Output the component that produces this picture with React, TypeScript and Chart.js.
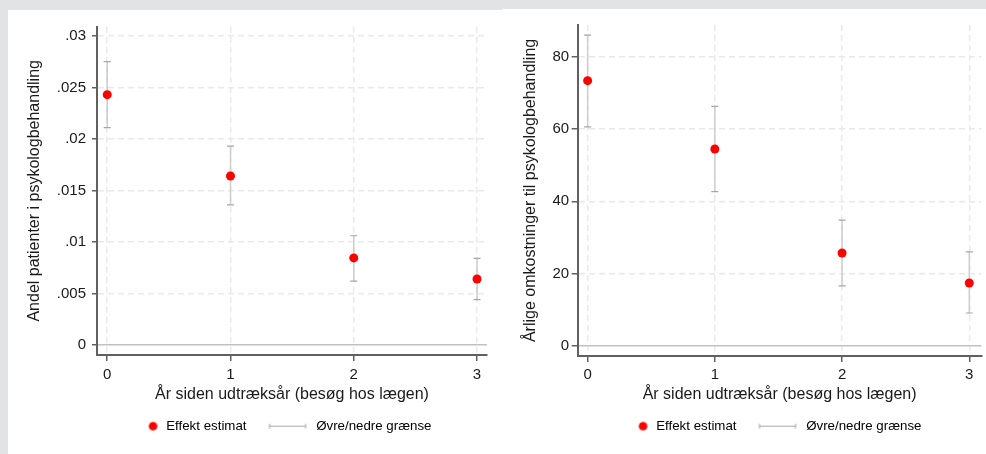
import React, { useEffect, useRef } from 'react';
import { Chart, registerables } from 'chart.js';

Chart.register(...registerables);

// ---------- data ----------
const years = [0, 1, 2, 3];
const yearTicks = [0, 1, 2, 3];

const shareEstimate = [0.0243, 0.0164, 0.00845, 0.0064];
const shareUpper = [0.0275, 0.0193, 0.0106, 0.0084];
const shareLower = [0.0211, 0.0136, 0.0062, 0.0044];
const shareTicks = [0, 0.005, 0.01, 0.015, 0.02, 0.025, 0.03];

const costEstimate = [73.4, 54.5, 25.7, 17.4];
const costUpper = [86.0, 66.3, 34.8, 26.0];
const costLower = [60.6, 42.7, 16.6, 9.1];
const costTicks = [0, 20, 40, 60, 80];

const xTitle = 'År siden udtræksår (besøg hos lægen)';
const shareTitle = 'Andel patienter i psykologbehandling';
const costTitle = 'Årlige omkostninger til psykologbehandling';
const legendLabels = ['Effekt estimat', 'Øvre/nedre grænse'];

const FONT = "'Liberation Sans', Arial, sans-serif";
const TEXT = '#1a1a1a';
const AXIS = '#606060';
const GRID = '#e9e9e9';
const ZERO = '#c2c2c2';
const RED = '#ff0000';

function makeDotIcon() {
  const c = document.createElement('canvas');
  c.width = 48; c.height = 13;
  const g = c.getContext('2d')!;
  g.fillStyle = RED;
  g.beginPath(); g.arc(41.5, 6.5, 4.3, 0, Math.PI * 2); g.fill();
  return c;
}
function makeBarIcon() {
  const c = document.createElement('canvas');
  c.width = 48; c.height = 13;
  const g = c.getContext('2d')!;
  g.strokeStyle = '#a8a8a8'; g.lineWidth = 1;
  g.beginPath();
  g.moveTo(7.5, 6.5); g.lineTo(44.5, 6.5);
  g.moveTo(8, 4); g.lineTo(8, 9);
  g.moveTo(44, 4); g.lineTo(44, 9);
  g.stroke();
  return c;
}

type PanelProps = {
  width: number; height: number;
  est: number[]; upper: number[]; lower: number[];
  yTicks: number[]; yMin: number; yMax: number;
  xMin: number; xMax: number;
  yTitle: string;
  fmt: (v: number) => string;
  pad: { left: number; right: number; top: number; bottom: number };
  rightExtra: number;
  yWidth: number; xHeight: number;
  yTickLen: number; yTickPad: number; xTickLen: number; xTickPad: number;
  yTitlePad: number;
};

function Panel(p: PanelProps) {
  const ref = useRef<HTMLCanvasElement | null>(null);
  useEffect(() => {
    if (!ref.current) return;
    const dot = makeDotIcon();
    const bar = makeBarIcon();
    const errorBars = {
      id: 'errorBars',
      beforeDatasetsDraw(chart: any) {
        const { ctx, scales } = chart;
        const xs = scales.x, ys = scales.y;
        ctx.save();
        years.forEach((xv, i) => {
          const px = xs.getPixelForValue(xv);
          const pu = ys.getPixelForValue(p.upper[i]);
          const pl = ys.getPixelForValue(p.lower[i]);
          ctx.strokeStyle = '#cdcdcd'; ctx.lineWidth = 1.5;
          ctx.beginPath(); ctx.moveTo(px, pu); ctx.lineTo(px, pl); ctx.stroke();
          ctx.strokeStyle = '#a6a6a6'; ctx.lineWidth = 1.2;
          ctx.beginPath();
          ctx.moveTo(px - 3.5, pu); ctx.lineTo(px + 3.5, pu);
          ctx.moveTo(px - 3.5, pl); ctx.lineTo(px + 3.5, pl);
          ctx.stroke();
        });
        ctx.restore();
      },
    };
    const scales: any = {
      x: {
        type: 'linear',
        min: p.xMin, max: p.xMax,
        afterBuildTicks: (s: any) => { s.ticks = yearTicks.map((v) => ({ value: v })); },
        afterFit: (s: any) => { s.height = p.xHeight; },
        ticks: { color: TEXT, font: { family: FONT, size: 15 }, padding: p.xTickPad, maxRotation: 0, callback: (v: any) => String(v) },
        grid: { color: GRID, lineWidth: 1.5, tickLength: p.xTickLen, tickColor: AXIS, tickWidth: 1.5, tickBorderDash: [] },
        border: { display: true, color: AXIS, width: 2, dash: [6, 4] },
        title: { display: true, text: xTitle, color: TEXT, font: { family: FONT, size: 16 }, padding: { top: 0, bottom: 0 } },
      },
      y: {
        type: 'linear',
        min: p.yMin, max: p.yMax,
        afterBuildTicks: (s: any) => { s.ticks = p.yTicks.map((v) => ({ value: v })); },
        afterFit: (s: any) => { s.width = p.yWidth; },
        ticks: { color: TEXT, font: { family: FONT, size: 15 }, padding: p.yTickPad, callback: (v: any) => p.fmt(Number(v)) },
        grid: {
          color: (c: any) => (c.tick && c.tick.value === 0 ? ZERO : GRID),
          lineWidth: 1.5, tickLength: p.yTickLen, tickColor: AXIS, tickWidth: 1.5, tickBorderDash: [],
        },
        border: { display: true, color: AXIS, width: 2, dash: (c: any) => (c.tick && c.tick.value === 0 ? [] : [6, 4]) },
        title: { display: true, text: p.yTitle, color: TEXT, font: { family: FONT, size: 16 }, padding: { top: p.yTitlePad, bottom: 0 } },
      },
    };
    if (p.rightExtra > 0) {
      scales.yR = {
        type: 'linear', position: 'right', min: 0, max: 1,
        grid: { display: false, drawTicks: false }, border: { display: false },
        ticks: { display: false }, title: { display: false },
        afterFit: (s: any) => { s.width = p.rightExtra; },
      };
    }
    const chart = new Chart(ref.current, {
      type: 'scatter',
      data: {
        datasets: [{
          label: legendLabels[0],
          data: years.map((x, i) => ({ x, y: p.est[i] })),
          pointRadius: 4.5,
          pointHoverRadius: 4.5,
          pointBackgroundColor: RED,
          pointBorderWidth: 0,
          showLine: false,
        }],
      },
      options: {
        responsive: false,
        animation: false,
        events: [],
        layout: { padding: p.pad },
        scales,
        plugins: {
          tooltip: { enabled: false },
          legend: {
            display: true,
            position: 'bottom',
            align: 'center',
            labels: {
              usePointStyle: true,
              pointStyleWidth: 48,
              padding: 15,
              color: TEXT,
              font: { family: FONT, size: 13.3 },
              generateLabels: () => [
                { text: legendLabels[0], pointStyle: dot, fillStyle: RED, strokeStyle: 'transparent', lineWidth: 0, hidden: false, datasetIndex: 0 },
                { text: legendLabels[1], pointStyle: bar, fillStyle: '#a8a8a8', strokeStyle: 'transparent', lineWidth: 0, hidden: false, datasetIndex: 0 },
              ] as any,
            },
          },
        },
      } as any,
      plugins: [errorBars],
    });
    return () => chart.destroy();
  }, []);
  return <canvas ref={ref} width={p.width} height={p.height} style={{ display: 'block' }} />;
}

const fmtShare = (v: number) => (v === 0 ? '0' : String(v).replace(/^0\./, '.'));
const fmtCost = (v: number) => String(v);

export default function App() {
  useEffect(() => { document.body.style.margin = '0'; }, []);
  return (
    <div style={{ position: 'fixed', left: 0, top: 0, width: 986, height: 454, background: '#e2e3e5', overflow: 'hidden' }}>
      <div style={{ position: 'absolute', left: 8, top: 10, width: 494, height: 444, background: '#fff' }}>
        <Panel
          width={494} height={444}
          est={shareEstimate} upper={shareUpper} lower={shareLower}
          yTicks={shareTicks} yMin={-0.00097} yMax={0.0309}
          xMin={-0.083} xMax={3.081}
          yTitle={shareTitle} fmt={fmtShare}
          pad={{ left: 44, right: 11, top: 16.7, bottom: 11.2 }}
          rightExtra={4}
          yWidth={45} xHeight={49.6}
          yTickLen={5} yTickPad={6} xTickLen={6} xTickPad={4.5}
          yTitlePad={-26.6}
        />
      </div>
      <div style={{ position: 'absolute', left: 502, top: 9, width: 484, height: 445, background: '#fff' }}>
        <Panel
          width={484} height={445}
          est={costEstimate} upper={costUpper} lower={costLower}
          yTicks={costTicks} yMin={-2.77} yMax={88.8}
          xMin={-0.078} xMax={3.096}
          yTitle={costTitle} fmt={fmtCost}
          pad={{ left: 35, right: 0, top: 16, bottom: 11.2 }}
          rightExtra={0}
          yWidth={40.7} xHeight={48.6}
          yTickLen={6} yTickPad={2.5} xTickLen={6} xTickPad={3.5}
          yTitlePad={-15.6}
        />
      </div>
    </div>
  );
}
